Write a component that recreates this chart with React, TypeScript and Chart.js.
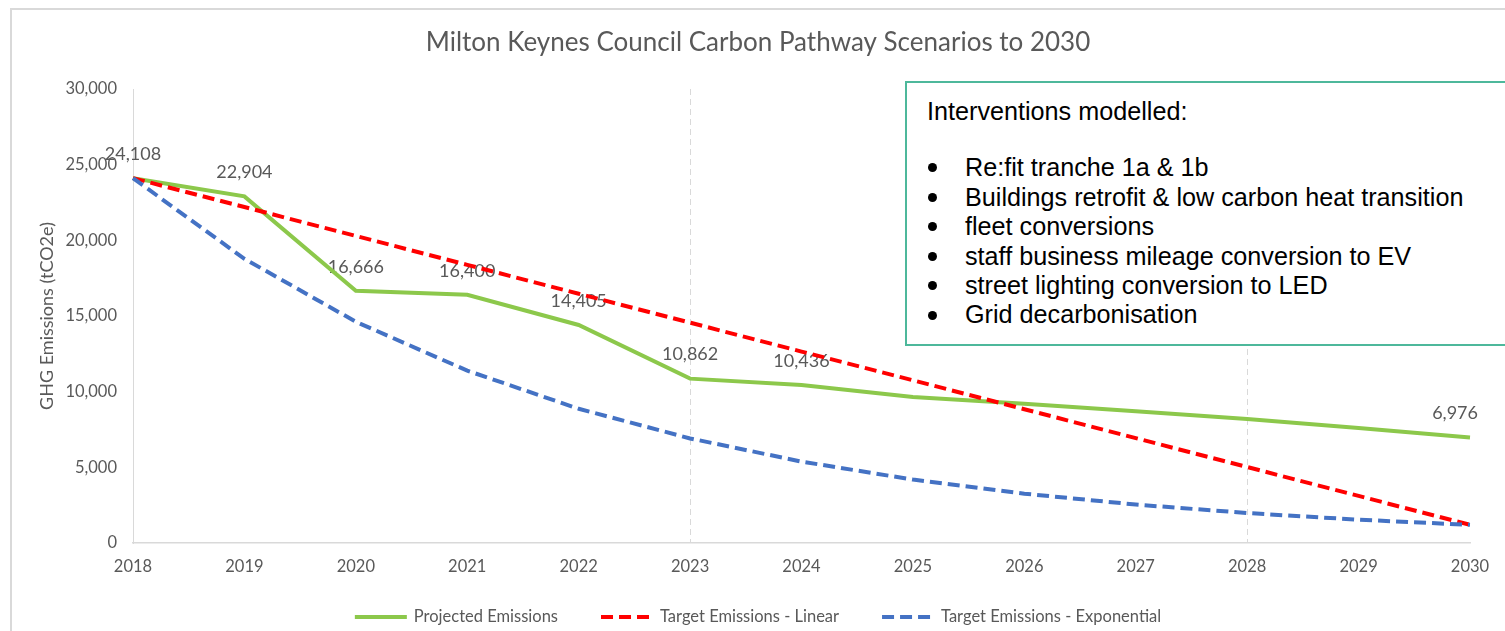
import React, { useEffect, useRef } from 'react';
import { Chart, registerables } from 'chart.js';

Chart.register(...registerables);

const chartTitle = 'Milton Keynes Council Carbon Pathway Scenarios to 2030';
const yAxisTitle = 'GHG Emissions (tCO2e)';

const years = ['2018', '2019', '2020', '2021', '2022', '2023', '2024', '2025', '2026', '2027', '2028', '2029', '2030'];

const seriesNames = ['Projected Emissions', 'Target Emissions - Linear', 'Target Emissions - Exponential'];

const projected = [24108, 22904, 16666, 16400, 14405, 10862, 10436, 9650, 9200, 8700, 8200, 7600, 6976];
const targetLinear = [24108, 22200, 20290, 18380, 16470, 14560, 12650, 10750, 8840, 6930, 5020, 3110, 1200];
const targetExponential = [24108, 18780, 14620, 11390, 8870, 6910, 5380, 4190, 3260, 2540, 1980, 1540, 1200];

const projectedLabelIndices = [0, 1, 2, 3, 4, 5, 6, 12];
const dashedGridYears = ['2023', '2028'];

const yMin = 0;
const yMax = 30000;
const yStep = 5000;

const interventionsHeading = 'Interventions modelled:';
const interventions = [
  'Re:fit tranche 1a & 1b',
  'Buildings retrofit & low carbon heat transition',
  'fleet conversions',
  'staff business mileage conversion to EV',
  'street lighting conversion to LED',
  'Grid decarbonisation',
];

const GREY = '#595959';
const FONT = 'Lato, "Open Sans", sans-serif';
const LEGEND_LINE = 52;
const LEGEND_TEXT_GAP = 7;
const LEGEND_ITEM_GAP = 43;
const LEGEND_FONT_SIZE = 16.5;

const fmt = (v: number) => Number(v).toLocaleString('en-US');

const dataLabelPlugin = {
  id: 'projectedLabels',
  beforeDatasetsDraw(chart: any) {
    const meta = chart.getDatasetMeta(0);
    const ctx = chart.ctx;
    ctx.save();
    ctx.font = `18px ${FONT}`;
    ctx.fillStyle = GREY;
    ctx.textBaseline = 'middle';
    const last = projected.length - 1;
    projectedLabelIndices.forEach((idx) => {
      const pt = meta.data[idx];
      if (!pt) return;
      if (idx === last) {
        ctx.textAlign = 'right';
        ctx.fillText(fmt(projected[idx]), pt.x + 8, pt.y - 24);
      } else {
        ctx.textAlign = 'center';
        ctx.fillText(fmt(projected[idx]), pt.x, pt.y - 24);
      }
    });
    ctx.restore();
  },
};

const lineLegendPlugin = {
  id: 'lineLegend',
  afterDraw(chart: any) {
    const ctx = chart.ctx;
    const datasets = chart.data.datasets;
    ctx.save();
    ctx.font = `${LEGEND_FONT_SIZE}px ${FONT}`;
    const widths = datasets.map((ds: any) => ctx.measureText(ds.label).width);
    const total =
      widths.reduce((a: number, w: number) => a + LEGEND_LINE + LEGEND_TEXT_GAP + w, 0) +
      LEGEND_ITEM_GAP * (datasets.length - 1);
    const center = (chart.titleBlock.left + chart.titleBlock.right) / 2;
    const y = chart.height - 14;
    let x = center - total / 2;
    datasets.forEach((ds: any, i: number) => {
      ctx.strokeStyle = ds.borderColor;
      ctx.lineWidth = ds.borderWidth;
      ctx.lineCap = 'butt';
      ctx.setLineDash(ds.borderDash || []);
      ctx.beginPath();
      ctx.moveTo(x, y);
      ctx.lineTo(x + LEGEND_LINE, y);
      ctx.stroke();
      ctx.setLineDash([]);
      x += LEGEND_LINE + LEGEND_TEXT_GAP;
      ctx.fillStyle = GREY;
      ctx.textAlign = 'left';
      ctx.textBaseline = 'middle';
      ctx.fillText(ds.label, x, y);
      x += widths[i] + LEGEND_ITEM_GAP;
    });
    ctx.restore();
  },
};

export default function App() {
  const canvasRef = useRef<HTMLCanvasElement | null>(null);

  useEffect(() => {
    if (!canvasRef.current) return;
    const chart = new Chart(canvasRef.current, {
      type: 'line',
      data: {
        labels: years,
        datasets: [
          {
            label: seriesNames[0],
            data: projected,
            borderColor: '#8cc84b',
            backgroundColor: '#8cc84b',
            borderWidth: 4,
            pointRadius: 0,
            tension: 0,
            fill: false,
            order: 3,
          },
          {
            label: seriesNames[1],
            data: targetLinear,
            borderColor: '#ff0000',
            backgroundColor: '#ff0000',
            borderWidth: 4,
            borderDash: [12, 6],
            pointRadius: 0,
            tension: 0,
            fill: false,
            order: 2,
          },
          {
            label: seriesNames[2],
            data: targetExponential,
            borderColor: '#4472c4',
            backgroundColor: '#4472c4',
            borderWidth: 4,
            borderDash: [12, 6],
            pointRadius: 0,
            tension: 0,
            fill: false,
            order: 1,
          },
        ],
      },
      options: {
        responsive: false,
        animation: false,
        events: [],
        layout: { padding: { left: 46, right: 50, top: 0, bottom: 48 } },
        plugins: {
          title: {
            display: true,
            text: chartTitle,
            color: GREY,
            font: { family: FONT, size: 26, weight: 'normal' },
            padding: { top: 27.4, bottom: 30.4 },
          },
          legend: { display: false },
          tooltip: { enabled: false },
        },
        scales: {
          x: {
            grid: {
              color: (c: any) =>
                c.tick && dashedGridYears.includes(years[c.index]) ? '#d9d9d9' : 'rgba(0,0,0,0)',
              lineWidth: 1,
              drawTicks: false,
            },
            border: { color: '#d9d9d9', width: 1.5, dash: [6, 4] },
            ticks: {
              color: GREY,
              font: { family: FONT, size: 16.5 },
              padding: 14,
              maxRotation: 0,
              autoSkip: false,
            },
            afterFit: (s: any) => {
              s.height = 40;
            },
          },
          y: {
            min: yMin,
            max: yMax,
            ticks: {
              stepSize: yStep,
              callback: (v: any) => fmt(v),
              color: GREY,
              font: { family: FONT, size: 16.5 },
              padding: 16,
            },
            grid: { display: false, drawTicks: false },
            border: { color: '#d9d9d9', width: 1 },
            title: {
              display: true,
              text: yAxisTitle,
              color: GREY,
              font: { family: FONT, size: 18 },
              padding: { top: -10, bottom: 0 },
            },
            afterFit: (s: any) => {
              s.width = 87;
            },
          },
        },
      },
      plugins: [dataLabelPlugin, lineLegendPlugin],
    } as any);
    return () => chart.destroy();
  }, []);

  return (
    <div
      style={{
        position: 'fixed',
        left: 0,
        top: 0,
        width: 1505,
        height: 631,
        overflow: 'hidden',
        background: '#ffffff',
      }}
    >
      <div
        style={{
          position: 'absolute',
          left: 10,
          top: 8,
          width: 1600,
          height: 700,
          borderTop: '2px solid #d9d9d9',
          borderLeft: '2px solid #d9d9d9',
          boxSizing: 'border-box',
        }}
      />
      <canvas
        ref={canvasRef}
        width={1520}
        height={631}
        style={{ position: 'absolute', left: 0, top: 0, width: 1520, height: 631, display: 'block' }}
      />
      <div
        style={{
          position: 'absolute',
          left: 905,
          top: 81,
          width: 700,
          height: 265,
          boxSizing: 'border-box',
          border: '2px solid #4db89b',
          background: '#ffffff',
          paddingTop: 14.3,
          paddingLeft: 20,
          fontFamily: '"Liberation Sans", Arial, sans-serif',
          fontSize: 25.2,
          lineHeight: '29.4px',
          color: '#000000',
        }}
      >
        <div style={{ whiteSpace: 'nowrap' }}>{interventionsHeading}</div>
        <div style={{ height: 26.6 }} />
        {interventions.map((t) => (
          <div key={t} style={{ position: 'relative', paddingLeft: 38, whiteSpace: 'nowrap' }}>
            <span
              style={{
                position: 'absolute',
                left: 0.5,
                top: 10.2,
                width: 9,
                height: 9,
                borderRadius: '50%',
                background: '#000000',
              }}
            />
            {t}
          </div>
        ))}
      </div>
    </div>
  );
}
